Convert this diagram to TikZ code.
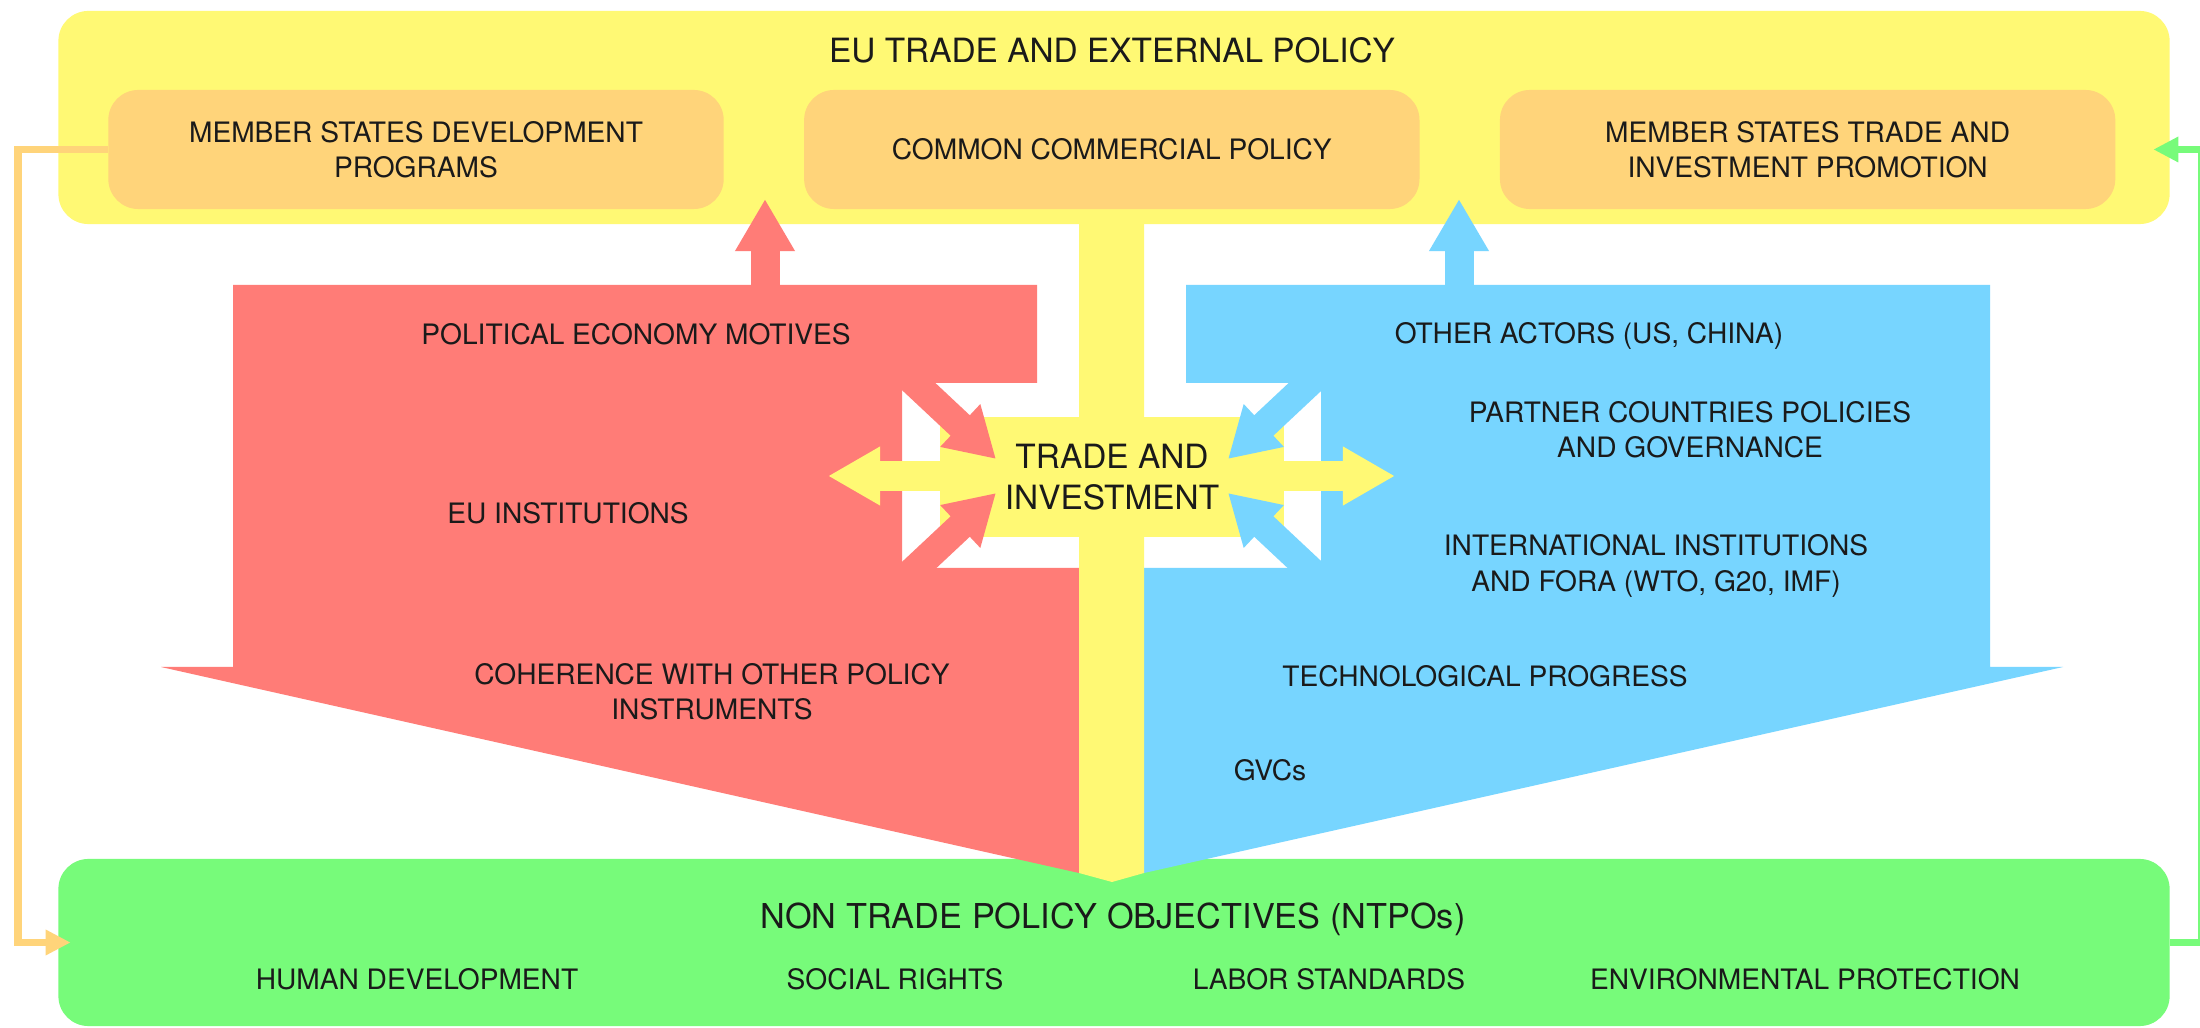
\documentclass[tikz,border=0pt]{standalone}
\usepackage{fontspec}
\setmainfont{TeX Gyre Heros}
\usepackage{tikz}
\usetikzlibrary{arrows.meta,positioning,calc}
\definecolor{eupanel}{HTML}{FFF974}
\definecolor{eubox}{HTML}{FFD47A}
\definecolor{motred}{HTML}{FF7C77}
\definecolor{actblue}{HTML}{77D5FF}
\definecolor{ntpogreen}{HTML}{77FB7A}
\definecolor{ink}{HTML}{1A1A1A}
\newcommand{\lblfont}{\fontsize{8}{10}\selectfont}
\newcommand{\hdfont}{\fontsize{9.5}{11.7}\selectfont}

\begin{document}
\begin{tikzpicture}[x=0.01cm, y=-0.01cm,
  panel/.style={rectangle, rounded corners=0.3cm, inner sep=0},
  subbox/.style={panel, fill=eubox, minimum width=6.15cm, minimum height=1.19cm, align=center, font=\lblfont, text=ink},
  lbl/.style={inner sep=0, align=center, font=\lblfont, text=ink},
  hd/.style={inner sep=0, align=center, font=\hdfont, text=ink},
  uparr/.style={line width=0.29cm, -{Triangle[width=0.56cm, length=0.52cm]}},
  diagarr/.style={line width=0.28cm, -{Triangle[width=0.55cm, length=0.49cm]}},
  feedback/.style={line width=0.07cm, -{Triangle[width=0.24cm, length=0.25cm]}}]
  \useasboundingbox[fill=white] (0,0) rectangle (2200,1028);
  \coordinate (lrail) at (18,0);
  \coordinate (rrail) at (2201,0);

  \node[panel, fill=ntpogreen, minimum width=21.1cm, minimum height=1.67cm] (ntpo) at (1114,942.5) {};
  \node[panel, fill=eupanel, minimum width=21.1cm, minimum height=2.13cm] (eu) at (1114,117.5) {};
  \node[hd] (eutitle) at (1112,50) {EU TRADE AND EXTERNAL POLICY};
  \node[subbox] (msdev) at (416,149.5) {MEMBER STATES DEVELOPMENT\\PROGRAMS};
  \node[subbox, right=0.79cm of msdev] (ccp) {COMMON COMMERCIAL POLICY};
  \node[subbox, right=0.79cm of ccp] (msinv) {MEMBER STATES TRADE AND\\INVESTMENT PROMOTION};

  \fill[motred] (233,285) -- (1037,285) -- (1037,383) -- (902,383) -- (902,568) -- (1079,568)
    -- (1079,873) -- (161,667) -- (233,667) -- cycle;
  \fill[actblue] (1990,285) -- (1186,285) -- (1186,383) -- (1321,383) -- (1321,568) -- (1144,568)
    -- (1144,873) -- (2063,667) -- (1990,667) -- cycle;
  \fill[eupanel] (1079,220) -- (1144,220) -- (1144,873) -- (1112,882) -- (1079,873) -- cycle;
  \draw[uparr, motred] (765,290) -- (765,199);
  \draw[uparr, actblue] (1459,290) -- (1459,199);

  \node[fill=eupanel, inner sep=0, minimum width=3.44cm, minimum height=1.2cm] (ti) at (1112,477) {};
  \draw[line width=0.30cm, eupanel, {Triangle[width=0.55cm, length=0.52cm]}-{Triangle[width=0.55cm, length=0.52cm]}]
    (828,476) -- (1395,476);
  \draw[diagarr, motred] (901,370) -- ++(95,89);
  \draw[diagarr, motred] (901,582) -- ++(95,-89);
  \draw[diagarr, actblue] (1323,370) -- ++(-95,89);
  \draw[diagarr, actblue] (1323,582) -- ++(-95,-89);
  \node[hd] (titext) at (ti) {TRADE AND\\INVESTMENT};

  \node[lbl] (polmot) at (636,334) {POLITICAL ECONOMY MOTIVES};
  \node[lbl] (euinst) at (568,513) {EU INSTITUTIONS};
  \node[lbl] (coher) at (712,692) {COHERENCE WITH OTHER POLICY\\INSTRUMENTS};
  \node[lbl] (others) at (1589,336) {OTHER ACTORS (US, CHINA)};
  \node[lbl] (partner) at (1690,430) {PARTNER COUNTRIES POLICIES\\AND GOVERNANCE};
  \node[lbl] (intl) at (1656,566) {INTERNATIONAL INSTITUTIONS\\AND FORA (WTO, G20, IMF)};
  \node[lbl] (tech) at (1485,676) {TECHNOLOGICAL PROGRESS};
  \node[lbl] (gvc) at (1270,770) {GVCs};

  \node[hd, font=\fontsize{9.75}{12}\selectfont] (ntpotitle) at (1113,919) {NON TRADE POLICY OBJECTIVES (NTPOs)};
  \node[lbl] (humdev) at (417,979) {HUMAN DEVELOPMENT};
  \node[lbl] (socr) at (895,979) {SOCIAL RIGHTS};
  \node[lbl] (labstd) at (1329,979) {LABOR STANDARDS};
  \node[lbl] (envpro) at (1805,979) {ENVIRONMENTAL PROTECTION};

  \draw[feedback, eubox, shorten >=-0.13cm] (msdev.west) -- (msdev.west -| lrail) |- (ntpo.west);
  \draw[feedback, ntpogreen, shorten >=-0.17cm] (ntpo.east) -- (ntpo.east -| rrail) |- (eu.east |- msinv.east);
\end{tikzpicture}
\end{document}
